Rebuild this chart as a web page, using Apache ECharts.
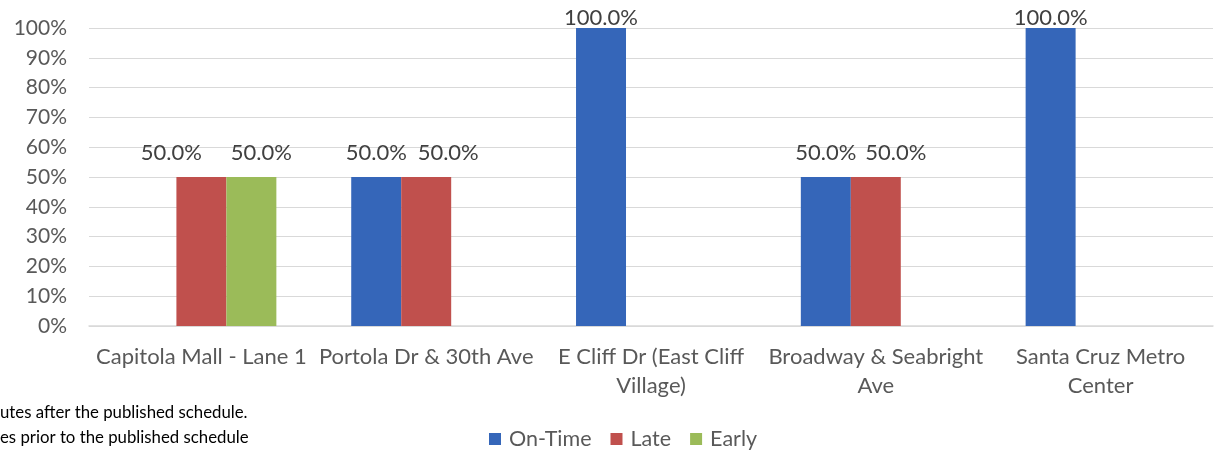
<!DOCTYPE html>
<html><head><meta charset="utf-8">
<script src="https://cdn.jsdelivr.net/npm/echarts@6/dist/echarts.min.js"></script>
<style>html,body{margin:0;padding:0;background:#fff}#c{width:1220px;height:452px}</style>
</head><body><div id="c"></div>
<script>
const categories = ["Capitola Mall - Lane 1", "Portola Dr & 30th Ave", "E Cliff Dr (East Cliff\nVillage)", "Broadway & Seabright\nAve", "Santa Cruz Metro\nCenter"];
const onTime = [null, 0.5, 1.0, 0.5, 1.0];
const late = [0.5, 0.5, null, 0.5, null];
const early = [0.5, null, null, null, null];
const yTicks = [0, 0.1, 0.2, 0.3, 0.4, 0.5, 0.6, 0.7, 0.8, 0.9, 1.0];
const notes = ["utes after the published schedule.", "es prior to the published schedule"];

// horizontal nudges for overlapping data labels (Excel-style), by series then category
const labelShift = [[0, 0, 0, 0, 0], [-30, 22, 0, 20, 0], [10, 0, 0, 0, 0]];

const FONT = 'Lato';
const TXT = '#595959';
const label = {show: true, position: 'top', color: '#404040', fontFamily: FONT, fontSize: 22, distance: 13,
  formatter: p => (p.value * 100).toFixed(1) + '%'};
const chart = echarts.init(document.getElementById('c'));
chart.setOption({
  animation: false,
  textStyle: {fontFamily: FONT},
  grid: {left: 89, right: 7, top: 28, bottom: 126, containLabel: false},
  legend: {top: 423, left: 484, itemWidth: 12, itemHeight: 12, itemGap: 19, icon: 'rect',
    textStyle: {fontFamily: FONT, fontSize: 21.5, color: TXT, padding: [0, 0, 0, 3]}},
  xAxis: {type: 'category', data: categories,
    axisLine: {lineStyle: {color: '#d9d9d9', width: 1.5}}, axisTick: {show: false},
    axisLabel: {color: TXT, fontFamily: FONT, fontSize: 22, lineHeight: 29, margin: 16, interval: 0}},
  yAxis: {type: 'value', min: 0, max: 1, interval: 0.1,
    axisLine: {show: false}, axisTick: {show: false},
    splitLine: {lineStyle: {color: '#d9d9d9', width: 1}},
    axisLabel: {color: TXT, fontFamily: FONT, fontSize: 21, margin: 22,
      formatter: v => Math.round(v * 100) + '%'}},
  labelLayout: p => ({dx: labelShift[p.seriesIndex][p.dataIndex], dy: Math.max(0, 7 - p.labelRect.y)}),
  series: [
    {name: 'On-Time', type: 'bar', data: onTime, itemStyle: {color: '#3566B9'}, label, barGap: '0%', barCategoryGap: '33.3%'},
    {name: 'Late', type: 'bar', data: late, itemStyle: {color: '#C0504D'}, label},
    {name: 'Early', type: 'bar', data: early, itemStyle: {color: '#9BBB59'}, label}
  ],
  graphic: notes.map((t, i) => ({type: 'text', left: 0, top: 404 + i * 25,
    style: {text: t, fontFamily: FONT, fontSize: 16.8, fill: '#000'}}))
});
</script></body></html>
